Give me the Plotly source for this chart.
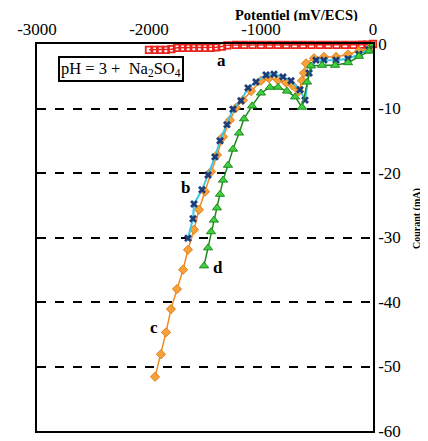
import plotly.graph_objects as go

# ---- data ----
a_x = [-2000, -1950, -1900, -1850, -1800, -1750, -1700, -1650, -1600, -1550, -1500, -1450, -1400, -1350,
       -1300, -1225, -1150, -1075, -1000, -925, -850, -775, -700, -625, -550, -475, -400, -325, -250,
       -175, -100, -50, 0]
a_y = [-0.9, -0.9, -0.9, -0.9, -0.8, -0.6, -0.6, -0.6, -0.6, -0.6, -0.6, -0.6, -0.5, -0.4,
       -0.2, -0.15, -0.15, -0.15, -0.15, -0.15, -0.15, -0.15, -0.15, -0.15, -0.15, -0.15, -0.15, -0.15, -0.15,
       -0.15, -0.1, -0.1, 0.0]

b_x = [-1652, -1607, -1598, -1527, -1473, -1411, -1366, -1304, -1250, -1179, -1116, -1045, -955, -884,
       -804, -732, -652, -607, -571, -509, -438, -330, -223, -125, -36, 0]
b_y = [-30.1, -27.1, -24.8, -22.6, -20.3, -17.5, -15.0, -12.5, -10.1, -8.8, -6.8, -5.9, -4.8, -4.7,
       -5.1, -5.7, -7.1, -8.7, -4.5, -2.5, -2.5, -2.5, -2.3, -1.6, -0.9, 0.0]

c_x = [-1946, -1893, -1848, -1804, -1750, -1696, -1652, -1598, -1554, -1500, -1446, -1393, -1339, -1277,
       -1223, -1161, -1089, -1000, -929, -848, -777, -714, -661, -634, -616, -598, -527, -438, -330,
       -223, -125, -36, 0]
c_y = [-51.6, -48.1, -44.7, -41.1, -38.0, -35.0, -31.9, -28.8, -25.7, -22.9, -19.8, -17.2, -14.4, -11.8,
       -9.9, -8.7, -7.3, -5.7, -5.3, -5.6, -6.0, -6.5, -7.3, -5.7, -4.5, -3.0, -2.2, -2.0, -2.0,
       -1.6, -1.1, -0.8, 0.0]

d_x = [-1509, -1473, -1446, -1420, -1393, -1366, -1339, -1295, -1250, -1196, -1152, -1080, -1000, -920,
       -848, -768, -696, -634, -589, -554, -455, -339, -223, -125, -36, 0]
d_y = [-34.4, -31.6, -29.1, -27.3, -25.4, -23.3, -21.1, -18.8, -16.3, -13.8, -11.6, -9.6, -7.6, -6.7,
       -6.7, -7.3, -8.2, -9.8, -5.9, -3.4, -3.3, -3.3, -2.9, -1.9, -1.1, 0.0]

x_ticks = [-3000, -2000, -1000, 0]
x_tick_text = ["-3000", "-2000", "-1000", "0"]
y_ticks = [-60, -50, -40, -30, -20, -10, 0]
y_tick_text = ["-60", "-50", "-40", "-30", "-20", "-10", "0"]

series_labels = ["a", "b", "c", "d"]
label_x = [-1350, -1670, -1955, -1384]
label_y = [-2.6, -22.2, -44.0, -34.6]

SERIF = "Liberation Serif, Times New Roman, serif"

fig = go.Figure()

fig.add_trace(go.Scatter(
    x=a_x, y=a_y, mode="lines+markers", cliponaxis=False,
    line=dict(color="#e8231c", width=1.5),
    marker=dict(symbol="square-open", size=6.5, color="#e8231c", line=dict(width=1.8)),
))
fig.add_trace(go.Scatter(
    x=c_x, y=c_y, mode="lines+markers",
    line=dict(color="#f08a24", width=1.5),
    marker=dict(symbol="diamond", size=7, color="#f7a13a", line=dict(color="#e07a10", width=1)),
))
fig.add_trace(go.Scatter(
    x=b_x, y=b_y, mode="lines+markers",
    line=dict(color="#3cc8e6", width=2),
    marker=dict(symbol="x", size=7, color="#1d3c78", line=dict(width=0)),
))
fig.add_trace(go.Scatter(
    x=d_x, y=d_y, mode="lines+markers",
    line=dict(color="#1e8a1e", width=1.5),
    marker=dict(symbol="triangle-up", size=8, color="#3fd03f", line=dict(color="#1e8a1e", width=1)),
))

for t, lx, ly in zip(series_labels, label_x, label_y):
    fig.add_annotation(x=lx, y=ly, text=t, showarrow=False,
                       font=dict(family=SERIF, size=17, color="black", weight="bold"))

fig.add_annotation(x=-2250, y=-3.8, text="pH = 3 +  Na<sub>2</sub>SO<sub>4</sub>", showarrow=False,
                   font=dict(family=SERIF, size=16.5, color="black"),
                   bordercolor="black", borderwidth=2, borderpad=1, bgcolor="white")

# plot area: 336 x 387 px
fig.add_annotation(xref="paper", yref="paper", x=(296 - 37) / 336, y=1 + (44 - 15) / 387,
                   xanchor="center", yanchor="middle", height=12, valign="middle",
                   text="<b>Potentiel (mV/ECS)</b>",
                   showarrow=False, font=dict(family=SERIF, size=14.5, color="black"))
fig.add_annotation(xref="paper", yref="paper", x=(417 - 37) / 336, y=1 - (219 - 44) / 387,
                   xanchor="center", yanchor="middle",
                   text="<b>Courant (mA)</b>",
                   textangle=-90, showarrow=False, font=dict(family=SERIF, size=10, color="black"))

# page has an 8px body margin: compensate so the plot lands at the reference position
fig.update_layout(
    width=420, height=433,
    margin=dict(l=29, r=55, t=36, b=10, autoexpand=False),
    paper_bgcolor="white", plot_bgcolor="white",
    showlegend=False,
    xaxis=dict(side="top", range=[-3000, 0], tickvals=x_ticks, ticktext=x_tick_text,
               showgrid=False, zeroline=False, showline=True, mirror=True, automargin=False,
               linecolor="black", linewidth=1.5, ticks="",
               tickfont=dict(family=SERIF, size=17, color="black")),
    yaxis=dict(side="right", range=[-60, 0], tickvals=y_ticks, ticktext=y_tick_text,
               showgrid=True, gridcolor="black", griddash="dash", gridwidth=1.5,
               zeroline=False, showline=True, mirror=True, automargin=False,
               linecolor="black", linewidth=1.5, ticks="",
               tickfont=dict(family=SERIF, size=17, color="black")),
)

fig.write_html("out.html")
